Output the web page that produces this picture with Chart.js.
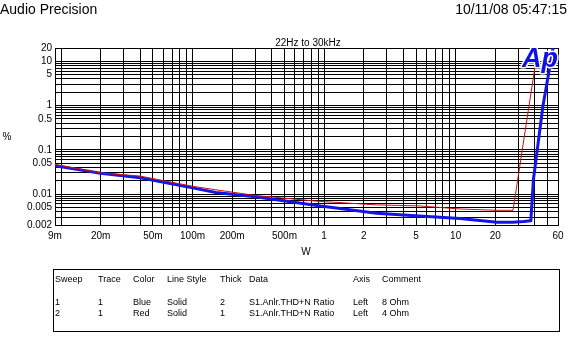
<!DOCTYPE html>
<html>
<head>
<style>
  body { margin: 0; background: #fff; }
  #wrap { position: relative; width: 577px; height: 355px; }
</style>
<script src="https://cdn.jsdelivr.net/npm/chart.js"></script>
</head>
<body>
<div id="wrap"><canvas id="myChart" width="577" height="355"></canvas></div>
<script>
  // sweep 1: 8 Ohm (blue), sweep 2: 4 Ohm (red)
  var blueW   = [0.009, 0.02, 0.04, 0.1, 0.15, 0.3, 0.88, 2.5, 5.3, 10.8, 20.6, 27, 33, 37.3, 39, 46, 52, 55];
  var bluePct = [0.0438, 0.0295, 0.0234, 0.0138, 0.0108, 0.0087, 0.0055, 0.0037, 0.0032, 0.0028, 0.0023, 0.0023, 0.0024, 0.0025, 0.021, 0.94, 7.5, 20];
  var redW    = [0.009, 0.02, 0.04, 0.1, 0.15, 0.3, 0.88, 2.5, 5.3, 10.8, 20.6, 27.3, 40.5, 42];
  var redPct  = [0.047, 0.030, 0.0255, 0.015, 0.0125, 0.0093, 0.0069, 0.0057, 0.0054, 0.0046, 0.0043, 0.0043, 9, 16];

  var xTickVals = [0.009, 0.02, 0.05, 0.1, 0.2, 0.5, 1, 2, 5, 10, 20, 60];
  var xTickText = ['9m', '20m', '50m', '100m', '200m', '500m', '1', '2', '5', '10', '20', '60'];
  var yTickVals = [0.002, 0.005, 0.01, 0.05, 0.1, 0.5, 1, 5, 10, 20];
  var yTickText = ['0.002', '0.005', '0.01', '0.05', '0.1', '0.5', '1', '5', '10', '20'];

  var tableHead = ['Sweep', 'Trace', 'Color', 'Line Style', 'Thick', 'Data', 'Axis', 'Comment'];
  var tableRows = [
    ['1', '1', 'Blue', 'Solid', '2', 'S1.Anlr.THD+N Ratio', 'Left', '8 Ohm'],
    ['2', '1', 'Red', 'Solid', '1', 'S1.Anlr.THD+N Ratio', 'Left', '4 Ohm']
  ];

  var FONT = '"Liberation Sans", Arial, sans-serif';

  function logGrid(min, max) {
    var out = [min];
    for (var e = -3; e <= 2; e++) {
      for (var m = 1; m <= 9; m++) {
        var v = +(m * Math.pow(10, e)).toPrecision(3);
        if (v > min * 1.0001 && v < max * 0.9999) out.push(v);
      }
    }
    out.push(max);
    return out;
  }
  function labelFor(vals, text, value) {
    for (var i = 0; i < vals.length; i++) {
      if (Math.abs(value / vals[i] - 1) < 1e-6) return text[i];
    }
    return '';
  }
  function pts(xs, ys) { return xs.map(function (x, i) { return {x: x, y: ys[i]}; }); }

  var extras = {
    id: 'extras',
    afterDatasetsDraw: function (chart) {
      var c = chart.ctx;
      c.save();
      // Ap logo
      c.font = 'italic bold 27px ' + FONT;
      c.textAlign = 'right';
      c.textBaseline = 'middle';
      c.lineJoin = 'round';
      c.strokeStyle = '#fff';
      c.lineWidth = 3;
      c.strokeText('Ap', 558, 60);
      c.fillStyle = '#1010e0';
      c.fillText('Ap', 558, 60);
      c.restore();
    },
    afterDraw: function (chart) {
      var c = chart.ctx;
      c.save();
      c.fillStyle = '#000';
      c.textBaseline = 'middle';
      c.font = '14px ' + FONT;
      c.textAlign = 'left';
      c.fillText('Audio Precision', 0, 10);
      c.textAlign = 'right';
      c.fillText('10/11/08 05:47:15', 567, 10);

      c.font = '10px ' + FONT;
      c.textAlign = 'center';
      c.fillText('22Hz to 30kHz', 308, 43);
      c.fillText('W', 306, 252);
      c.fillText('%', 7, 137);

      // table box
      c.strokeStyle = '#000';
      c.lineWidth = 1;
      c.strokeRect(53.5, 269.5, 506, 62);
      var cols = [55, 98, 133, 167, 220, 249, 353, 382];
      c.font = '9px ' + FONT;
      c.textAlign = 'left';
      tableHead.forEach(function (t, i) { c.fillText(t, cols[i], 280); });
      tableRows.forEach(function (row, r) {
        row.forEach(function (t, i) { c.fillText(t, cols[i], 303 + r * 11); });
      });
      c.restore();
    }
  };

  Chart.defaults.font.family = FONT;
  Chart.defaults.color = '#000';

  new Chart(document.getElementById('myChart'), {
    type: 'line',
    data: {
      datasets: [
        { label: '4 Ohm', data: pts(redW, redPct), borderColor: '#cc1010', borderWidth: 1, order: 0 },
        { label: '8 Ohm', data: pts(blueW, bluePct), borderColor: '#1414e6', borderWidth: 3, order: 1 }
      ]
    },
    options: {
      responsive: false,
      animation: false,
      events: [],
      layout: { padding: { top: 48, left: 0, right: 19, bottom: 110 } },
      elements: { point: { radius: 0 }, line: { tension: 0 } },
      plugins: { legend: { display: false }, tooltip: { enabled: false } },
      scales: {
        x: {
          type: 'logarithmic',
          min: 0.009, max: 60,
          grid: { color: '#000', drawTicks: false },
          border: { color: '#000' },
          ticks: {
            autoSkip: false, maxRotation: 0, padding: 5,
            font: { size: 10 },
            callback: function (v) { return labelFor(xTickVals, xTickText, v); }
          },
          afterBuildTicks: function (s) { s.ticks = logGrid(0.009, 60).map(function (v) { return {value: v}; }); },
          afterFit: function (s) { s.height = 20; s.paddingLeft = 0; s.paddingRight = 0; }
        },
        y: {
          type: 'logarithmic',
          min: 0.002, max: 20,
          grid: { color: '#000', drawTicks: false },
          border: { color: '#000' },
          ticks: {
            autoSkip: false, padding: 3,
            font: { size: 10 },
            callback: function (v) { return labelFor(yTickVals, yTickText, v); }
          },
          afterBuildTicks: function (s) { s.ticks = logGrid(0.002, 20).map(function (v) { return {value: v}; }); },
          afterFit: function (s) { s.width = 55; s.paddingTop = 0; s.paddingBottom = 0; }
        }
      }
    },
    plugins: [extras]
  });
</script>
</body>
</html>
